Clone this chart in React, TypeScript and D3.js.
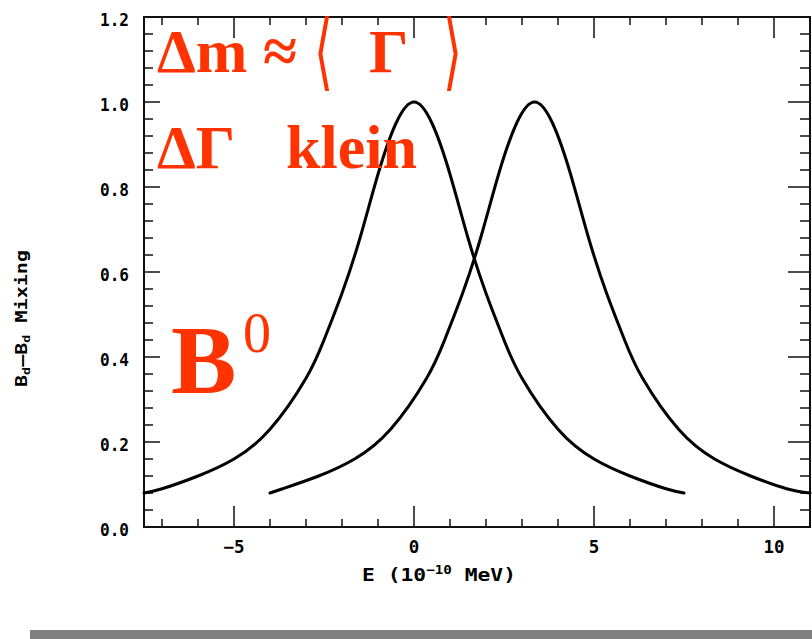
import React from 'react'
import * as d3 from 'd3'

// curve: mixing peak at E = 0
const CURVE_A_E = [-7.5, -7, -6, -5, -4, -3, -2.5, -2, -1.5, -1, -0.5, 0, 0.5, 1, 1.5, 2, 2.5, 3, 4, 5, 6, 7, 7.5]
const CURVE_A_V = [0.08, 0.09, 0.12, 0.16, 0.23, 0.35, 0.44, 0.55, 0.68, 0.83, 0.95, 1.0, 0.95, 0.83, 0.68, 0.55, 0.44, 0.35, 0.23, 0.16, 0.12, 0.09, 0.08]

// second curve, peak near E = 3.35
const CURVE_B_E = [-4, -3.65, -2.65, -1.65, -0.65, 0.35, 0.85, 1.35, 1.85, 2.35, 2.85, 3.35, 3.85, 4.35, 4.85, 5.35, 5.85, 6.35, 7.35, 8.35, 9.35, 10.35, 11]
const CURVE_B_V = [0.08, 0.09, 0.12, 0.16, 0.23, 0.35, 0.44, 0.55, 0.68, 0.83, 0.95, 1.0, 0.95, 0.83, 0.68, 0.55, 0.44, 0.35, 0.23, 0.16, 0.12, 0.09, 0.08]

const X_TICKS = [-5, 0, 5, 10]
const X_TICK_LABELS = ['\u22125', '0', '5', '10']
const Y_TICKS = [0, 0.2, 0.4, 0.6, 0.8, 1.0, 1.2]
const Y_TICK_LABELS = ['0.0', '0.2', '0.4', '0.6', '0.8', '1.0', '1.2']

const RED = '#ff3300'
const MONO = '"DejaVu Sans Mono", monospace'
const SERIF = '"Liberation Serif", "Times New Roman", serif'

const W = 812
const H = 639
const L = 144, R = 810, T = 17, B = 527

export default function App() {
  const x = d3.scaleLinear().domain([-7.5, 11]).range([L, R])
  const y = d3.scaleLinear().domain([0, 1.2]).range([B, T])

  const line = d3.line<[number, number]>()
    .x(d => x(d[0]))
    .y(d => y(d[1]))
    .curve(d3.curveNatural)

  const curveA = CURVE_A_E.map((e, i) => [e, CURVE_A_V[i]] as [number, number])
  const curveB = CURVE_B_E.map((e, i) => [e, CURVE_B_V[i]] as [number, number])

  const xMinor = d3.range(-7, 11.01, 1).filter(v => !X_TICKS.includes(v))
  const yMinor = d3.range(0, 1.2001, 0.04).filter(v => !Y_TICKS.some(t => Math.abs(t - v) < 1e-6))

  return (
    <svg width={W} height={H} style={{ display: 'block' }}>
      <style>{`body{margin:0}`}</style>
      <rect width={W} height={H} fill="white" />

      {/* frame */}
      <rect x={L} y={T} width={R - L} height={B - T} fill="none" stroke="#111" strokeWidth={2} />

      {/* ticks on all four sides */}
      <g stroke="#111" strokeWidth={1.5}>
        {X_TICKS.map(v => (
          <g key={`xm-${v}`}>
            <line x1={x(v)} x2={x(v)} y1={B} y2={B - 21} />
            <line x1={x(v)} x2={x(v)} y1={T} y2={T + 21} />
          </g>
        ))}
        {xMinor.map(v => (
          <g key={`xn-${v}`}>
            <line x1={x(v)} x2={x(v)} y1={B} y2={B - 8} />
            <line x1={x(v)} x2={x(v)} y1={T} y2={T + 8} />
          </g>
        ))}
        {Y_TICKS.map(v => (
          <g key={`ym-${v}`}>
            <line x1={L} x2={L + 16} y1={y(v)} y2={y(v)} />
            <line x1={R} x2={R - 22} y1={y(v)} y2={y(v)} />
          </g>
        ))}
        {yMinor.map(v => (
          <g key={`yn-${v}`}>
            <line x1={L} x2={L + 9} y1={y(v)} y2={y(v)} />
            <line x1={R} x2={R - 10} y1={y(v)} y2={y(v)} />
          </g>
        ))}
      </g>

      {/* tick labels */}
      <g fontFamily={MONO} fontWeight="bold" fontSize={17.5} fill="#000">
        {Y_TICKS.map((v, i) => (
          <text key={`yl-${v}`} x={129} y={y(v) + 8.5} textAnchor="end" textLength={29} lengthAdjust="spacingAndGlyphs">{Y_TICK_LABELS[i]}</text>
        ))}
        {X_TICKS.map((v, i) => (
          <text key={`xl-${v}`} x={x(v)} y={553} textAnchor="middle">{X_TICK_LABELS[i]}</text>
        ))}
      </g>

      {/* axis titles */}
      <text x={362} y={581} fontFamily={MONO} fontWeight="bold" fontSize={18} fill="#000" textLength={154} lengthAdjust="spacingAndGlyphs">
        E (10<tspan dy={-7} fontSize={12}>{'\u221210'}</tspan><tspan dy={7}> MeV)</tspan>
      </text>
      <text transform="translate(27,387) rotate(-90)" fontFamily={MONO} fontWeight="bold" fontSize={15} fill="#000" textLength={137} lengthAdjust="spacingAndGlyphs">
        B<tspan dy={3} fontSize={10}>d</tspan><tspan dy={-3}>{'\u2014'}B</tspan><tspan dy={3} fontSize={10}>d</tspan><tspan dy={-3}> Mixing</tspan>
      </text>

      {/* curves */}
      <path d={line(curveA) ?? ''} fill="none" stroke="#000" strokeWidth={3} strokeLinecap="round" />
      <path d={line(curveB) ?? ''} fill="none" stroke="#000" strokeWidth={3} strokeLinecap="round" />

      {/* red annotations */}
      <g fill={RED} fontFamily={SERIF}>
        <text x={157} y={72} fontSize={62} fontWeight="bold">{'\u0394m \u2248'}</text>
        <text transform="translate(314,80) scale(0.58,1)" fontSize={84} fontFamily='"DejaVu Serif", serif'>{'\u27E8'}</text>
        <text x={369} y={72} fontSize={62} fontWeight="bold">{'\u0393'}</text>
        <text transform="translate(443,80) scale(0.58,1)" fontSize={84} fontFamily='"DejaVu Serif", serif'>{'\u27E9'}</text>
        <text x={157} y={168} fontSize={62} fontWeight="bold">{'\u0394\u0393'}</text>
        <text x={286} y={168} fontSize={62} fontWeight="bold">klein</text>
        <text x={171} y={393} fontSize={98} fontWeight="bold">B</text>
        <text x={243} y={352} fontSize={56}>0</text>
      </g>

      {/* grey strip at the bottom */}
      <rect x={30} y={630} width={W - 30} height={9} fill="#808080" />
    </svg>
  )
}
